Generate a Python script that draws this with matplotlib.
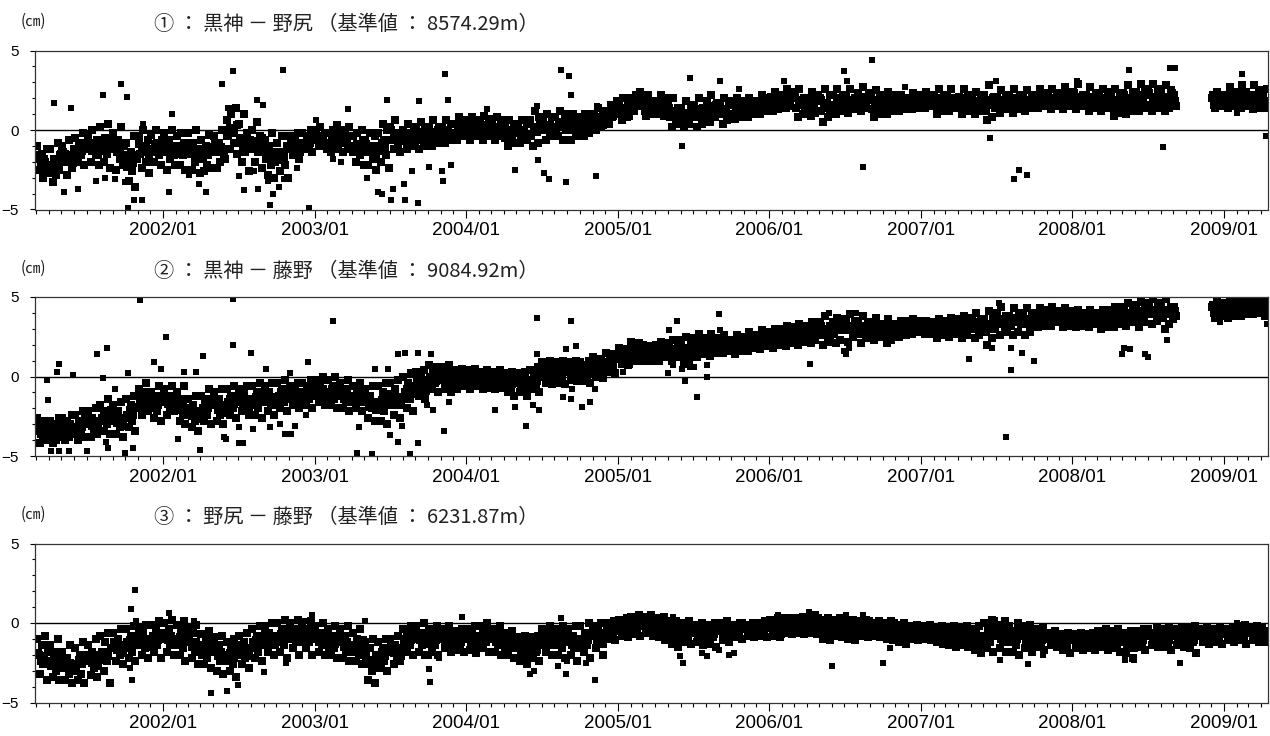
import numpy as np
import pandas as pd
import matplotlib
matplotlib.use("Agg")
import matplotlib.pyplot as plt
import matplotlib.dates as mdates
from matplotlib.ticker import MultipleLocator, FixedLocator

N = None
START_MONTH = "2001-03"
END_MONTH = "2009-04"

TITLES = ["① ： 黒神 － 野尻 （基準値 ： 8574.29m）",
          "② ： 黒神 － 藤野 （基準値 ： 9084.92m）",
          "③ ： 野尻 － 藤野 （基準値 ： 6231.87m）"]
UNIT = "(㎝)"

# baseline-length change in mm, 8 readings per month (Mar 2001 .. Apr 2009)
P1_MM = [
    -10,-18,-25,-15,-30,-20,-12,-27, -12,-22,-33,-18,-28,-8,-25,-15, -10,-20,-15,-28,-6,-18,-24,-12,
    -5,-14,-20,-8,-16,-2,-22,-11, -3,-12,-20,0,-8,-16,-6,-22, 2,-10,-20,-5,-15,4,-24,-8,
    -2,-12,-25,-6,-18,2,-22,-10, -8,-20,-32,-14,-26,-4,-36,-18, -4,-15,-24,0,-10,-20,-6,-27,
    -3,-12,-20,0,-8,-16,-22,-6,
    -2,-14,-25,-6,-18,0,-10,-22, -4,-12,-22,-2,-16,-8,-25,-10, -2,-15,-25,-8,-20,0,-12,-27,
    -6,-18,-26,-10,-22,-3,-14,-24, -4,-14,-24,-8,-20,0,-12,-18, 6,-4,-12,10,0,-8,14,-15,
    4,-8,-20,10,-14,-2,-26,-6, 0,-10,-20,5,-14,-4,-24,-8, -6,-18,-28,-10,-22,-2,-30,-14,
    -8,-18,-26,-4,-14,-22,-10,-30, -4,-10,-16,-6,-12,-2,-18,-8, -2,-8,-12,-4,-10,0,-14,-6,
    0,-6,-10,2,-4,-8,-2,-12, -2,-8,-14,0,-6,-12,3,-10, -2,-8,-14,0,-6,-12,2,-10,
    -4,-12,-20,-2,-10,-16,0,-22, -6,-14,-22,-2,-10,-18,-4,-25, -2,-10,-20,4,-6,-16,0,-24,
    2,-6,-12,6,-2,-10,-14,-4, 0,-6,-12,4,-2,-10,-4,-8, 2,-6,-12,5,-2,-10,0,-8,
    2,-4,-10,6,-2,-8,0,-6, 2,-4,-8,6,0,-6,4,-2, 4,-2,-6,8,2,-4,6,0,
    4,-2,-6,8,0,-4,6,2, 5,-2,-6,9,2,-4,7,0, 4,-2,-6,8,0,-4,6,2,
    2,-4,-10,6,-2,-8,4,0, 3,-2,-8,6,0,-6,4,-4, 6,-4,-10,12,0,-8,8,2,
    6,0,-6,10,3,-4,8,2, 8,2,-4,12,4,-6,10,0, 6,0,-6,10,2,-4,8,4,
    6,0,-4,10,4,-2,8,2, 10,4,0,14,6,2,12,8, 12,6,4,16,8,10,14,18,
    16,10,6,20,12,8,18,14, 20,14,12,22,16,18,24,15, 20,12,9,22,16,14,18,10,
    18,12,10,22,14,9,20,16, 16,8,2,20,12,4,14,10, 14,6,2,18,10,4,12,8,
    16,8,2,20,10,4,14,6, 18,10,5,22,14,8,16,12, 16,10,4,20,12,6,18,8,
    16,10,7,20,14,8,18,12, 16,11,8,20,14,10,18,12, 18,13,10,22,15,12,20,16,
    20,15,12,24,17,13,22,18, 22,16,14,26,18,15,24,20, 22,14,8,26,16,10,20,18,
    20,14,9,24,16,11,22,18, 20,12,5,26,14,8,22,16, 22,14,10,26,16,12,20,18,
    22,15,11,26,17,13,20,18, 23,16,12,27,18,14,21,19, 20,13,8,25,15,10,22,17,
    20,14,10,24,16,12,22,18, 19,15,12,22,17,13,20,18, 20,16,13,23,18,14,22,19,
    21,16,14,24,18,15,22,19, 22,15,10,26,17,12,20,18, 22,16,12,26,18,14,20,19,
    21,15,10,26,17,12,22,18, 20,14,10,24,16,12,22,18, 22,12,6,28,16,8,20,14,
    21,15,11,25,17,13,20,18, 22,16,11,26,18,13,20,19, 21,16,12,25,18,14,20,19,
    22,17,14,26,19,15,21,20, 22,16,13,26,18,15,21,20, 23,17,13,27,19,15,22,20,
    24,17,13,29,20,15,22,21, 22,16,12,27,18,14,21,20, 22,16,12,26,18,14,24,20,
    21,14,9,26,17,11,23,19, 23,15,10,28,18,12,24,20, 24,17,12,29,20,14,26,22,
    24,16,12,29,20,14,26,21, 23,16,12,28,19,14,25,21, 22,15,N,N,N,N,N,N,
    N,N,N,N,N,N,N,N, N,N,N,N,N,N,N,N, 20,16,14,24,18,15,22,19,
    22,16,14,27,18,15,24,20, 22,16,14,28,19,15,24,21, 22,16,13,28,19,14,25,20,
    21,16,14,26,18,N,N,N,
]

# 4 further readings per month lying in the dense middle of the band
P1_CORE_MM = [
    -16,-21,-18,-23, -23,-18,-21,-16, -14,-19,-16,-21, -15,-10,-13,-8, -8,-13,-10,-15,
    -13,-8,-11,-6, -9,-14,-11,-16, -23,-18,-21,-16, -9,-14,-11,-16, -14,-9,-12,-7,
    -9,-14,-11,-16, -15,-10,-13,-8, -10,-15,-12,-17, -18,-13,-16,-11, -9,-14,-11,-16,
    -4,1,-2,3, -5,-10,-7,-12, -12,-7,-10,-5, -13,-18,-15,-20, -19,-14,-17,-12,
    -7,-12,-9,-14, -10,-5,-8,-3,
    -2,-7,-4,-9, -9,-4,-7,-2, -3,-8,-5,-10, -14,-9,-12,-7, -9,-14,-11,-16,
    -13,-8,-11,-6, 0,-5,-2,-7, -7,-2,-5,0, -1,-6,-3,-8, -6,-1,-4,1,
    2,-3,0,-5, -2,3,0,5,
    4,-1,2,-3, -2,3,0,5, 4,-1,2,-3, -5,0,-3,2, 2,-3,0,-5,
    -3,2,-1,4, 5,0,3,-2, 0,5,2,7, 5,0,3,-2, 0,5,2,7,
    10,5,8,3, 7,12,9,14,
    16,11,14,9, 15,20,17,22, 19,14,17,12, 13,18,15,20, 14,9,12,7,
    6,11,8,13, 13,8,11,6, 10,15,12,17, 15,10,13,8, 10,15,12,17,
    17,12,15,10, 13,18,15,20,
    21,16,19,14, 17,22,19,24, 21,16,19,14, 15,20,17,22, 19,14,17,12,
    15,20,17,22, 21,16,19,14, 16,21,18,23, 19,14,17,12, 14,19,16,21,
    20,15,18,13, 15,20,17,22,
    22,17,20,15, 15,20,17,22, 22,17,20,15, 15,20,17,22, 20,15,18,13,
    14,19,16,21, 21,16,19,14, 15,20,17,22, 21,16,19,14, 16,21,18,23,
    22,17,20,15, 17,22,19,24,
    23,18,21,16, 16,21,18,23, 22,17,20,15, 14,19,16,21, 22,17,20,15,
    17,22,19,24, 23,18,21,16, 16,21,18,23, 18,N,N,N, N,N,N,N,
    N,N,N,N, 22,17,20,15,
    17,22,19,24, 23,18,21,16, 17,22,19,24, 22,17,N,N,
]

P2_MM = [
    -26,-34,-42,-30,-38,-28,-40,-32, -28,-36,-42,-30,-40,-32,-26,-38, -26,-34,-40,-28,-38,-30,-24,-36,
    -24,-32,-40,-28,-36,-22,-38,-30, -22,-30,-38,-26,-34,-20,-36,-28, -18,-26,-34,-22,-30,-14,-36,-24,
    -18,-28,-36,-22,-32,-16,-38,-26, -14,-24,-32,-18,-28,-12,-34,-20, -8,-16,-24,-10,-20,-4,-22,-14,
    -10,-18,-26,-12,-22,-6,-28,-16,
    -8,-16,-24,-12,-20,-6,-22,-14, -10,-18,-28,-14,-24,-6,-30,-20, -14,-24,-32,-18,-28,-12,-34,-22,
    -12,-20,-28,-14,-24,-8,-30,-18, -10,-18,-28,-14,-24,-8,-30,-20, -8,-16,-24,-12,-20,-6,-26,-14,
    -8,-16,-22,-10,-18,-6,-24,-14, -6,-14,-24,-10,-20,-4,-26,-16, -6,-14,-22,-10,-18,-4,-24,-16,
    -4,-12,-20,-8,-16,-2,-22,-14, -6,-12,-18,-8,-14,-4,-20,-10, -4,-10,-18,-6,-14,-2,-20,-12,
    -2,-8,-16,-4,-12,0,-18,-10, -2,-10,-18,-6,-14,0,-20,-12, -4,-12,-20,-8,-16,-2,-22,-14,
    -6,-12,-20,-8,-16,-4,-22,-14, -8,-16,-26,-12,-20,-6,-28,-18, -6,-16,-28,-10,-22,-4,-30,-18,
    -4,-12,-24,-8,-18,-2,-26,-14, 0,-10,-20,-4,-14,2,-22,-8, 3,-4,-12,0,-8,4,-14,-2,
    7,0,-8,4,-4,6,-10,2, 6,-2,-8,4,-4,7,-10,0, 4,-2,-8,2,-4,5,-6,0,
    4,-2,-8,2,-5,5,-6,0, 3,-3,-8,1,-6,4,-7,-1, 3,-3,-8,0,-6,4,-7,-1,
    2,-4,-10,0,-7,3,-12,-2, 2,-4,-10,0,-8,3,-12,-2, 4,-2,-8,2,-5,6,-10,0,
    9,2,-4,6,-1,10,-5,4, 9,2,-4,6,0,10,-5,3, 9,3,-2,7,0,10,-3,5,
    9,3,-3,7,0,10,-4,5, 12,6,0,10,3,11,-1,8, 15,9,3,13,6,14,2,11,
    18,12,8,16,10,17,7,14, 22,15,10,20,13,21,10,17, 20,14,10,18,12,19,10,16,
    20,14,10,22,16,12,18,13, 21,15,10,23,17,12,19,14, 23,15,8,25,17,10,20,13,
    24,18,12,27,20,14,22,16, 24,18,13,27,20,15,22,17, 23,18,15,26,20,16,22,19,
    23,18,14,26,20,16,22,19, 25,20,16,28,22,18,24,21, 26,21,17,29,23,19,25,22,
    28,22,18,30,24,20,26,23, 30,24,19,32,26,21,28,25, 31,25,20,33,27,22,29,26,
    32,26,21,34,28,23,30,27, 34,26,20,38,30,22,32,28, 34,27,21,37,30,23,32,29,
    36,29,22,39,32,25,34,30, 35,28,21,38,31,24,33,29, 34,28,23,37,31,25,33,30,
    33,27,21,36,29,23,31,28, 33,29,25,35,31,26,32,30, 35,30,27,36,32,28,34,31,
    34,30,27,35,32,28,33,31, 34,28,24,36,30,26,33,29, 35,30,25,37,32,27,34,31,
    36,30,24,38,33,26,35,31, 37,31,24,40,34,26,36,32, 36,28,20,41,32,24,38,30,
    40,33,26,44,36,28,38,34, 38,32,26,43,35,28,40,33, 40,33,26,43,36,28,38,34,
    40,35,31,43,37,32,41,36, 42,37,32,44,39,34,41,38, 41,36,31,43,38,32,40,37,
    40,35,31,42,37,32,39,36, 40,35,31,42,37,33,39,36, 40,34,30,42,36,31,39,35,
    42,36,31,44,38,33,40,37, 44,38,32,46,40,34,42,39, 45,38,31,47,41,34,43,40,
    46,39,33,49,42,35,44,40, 46,38,30,49,42,33,44,36, 44,38,N,N,N,N,N,N,
    N,N,N,N,N,N,N,N, N,N,N,N,N,N,N,N, 44,40,37,47,42,38,45,41,
    46,41,37,49,43,38,47,42, 47,42,38,49,44,39,46,43, 47,42,39,49,44,40,46,43,
    46,41,38,48,43,N,N,N,
]

P2_CORE_MM = [
    -31,-36,-33,-38, -37,-32,-35,-30, -29,-34,-31,-36, -34,-29,-32,-27, -26,-31,-28,-33,
    -28,-23,-26,-21, -24,-29,-26,-31, -26,-21,-24,-19, -12,-17,-14,-19, -20,-15,-18,-13,
    -12,-17,-14,-19, -21,-16,-19,-14, -20,-25,-22,-27, -22,-17,-20,-15, -16,-21,-18,-23,
    -19,-14,-17,-12, -12,-17,-14,-19, -18,-13,-16,-11, -11,-16,-13,-18, -15,-10,-13,-8,
    -9,-14,-11,-16, -14,-9,-12,-7,
    -6,-11,-8,-13, -13,-8,-11,-6, -9,-14,-11,-16, -16,-11,-14,-9, -14,-19,-16,-21,
    -20,-15,-18,-13, -11,-16,-13,-18, -13,-8,-11,-6, -2,-7,-4,-9, -5,0,-3,2,
    2,-3,0,-5, -4,1,-2,3,
    2,-3,0,-5, -5,0,-3,2, 1,-4,-1,-6, -7,-2,-5,0, -1,-6,-3,-8,
    -5,0,-3,2, 5,0,3,-2, -1,4,1,6, 6,1,4,-1, 0,5,2,7,
    8,3,6,1, 5,10,7,12,
    15,10,13,8, 12,17,14,19, 17,12,15,10, 13,18,15,20, 19,14,17,12,
    13,18,15,20, 22,17,20,15, 17,22,19,24, 23,18,21,16, 17,22,19,24,
    25,20,23,18, 20,25,22,27,
    27,22,25,20, 23,28,25,30, 30,25,28,23, 25,30,27,32, 32,27,30,25,
    27,32,29,34, 34,29,32,27, 27,32,29,34, 33,28,31,26, 26,31,28,33,
    33,28,31,26, 28,33,30,35,
    34,29,32,27, 27,32,29,34, 34,29,32,27, 28,33,30,35, 35,30,33,28,
    28,33,30,35, 38,33,36,31, 32,37,34,39, 38,33,36,31, 34,39,36,41,
    41,36,39,34, 34,39,36,41,
    39,34,37,32, 33,38,35,40, 39,34,37,32, 34,39,36,41, 42,37,40,35,
    36,41,38,43, 44,39,42,37, 37,42,39,44, 41,N,N,N, N,N,N,N,
    N,N,N,N, 45,40,43,38,
    40,45,42,47, 47,42,45,40, 41,46,43,48, 46,41,N,N,
]

P3_MM = [
    -10,-20,-32,-14,-26,-8,-36,-18, -14,-24,-34,-18,-30,-10,-36,-22, -18,-28,-36,-22,-32,-14,-38,-26,
    -16,-26,-36,-20,-32,-12,-38,-24, -14,-24,-33,-18,-28,-10,-34,-20, -8,-18,-30,-12,-24,-6,-38,-16,
    -6,-14,-24,-10,-20,-4,-26,-16, -4,-12,-22,-8,-18,-2,-24,-14, -3,-10,-20,-6,-16,-1,-22,-12,
    -1,-8,-18,-4,-14,1,-22,-10,
    0,-8,-18,-4,-14,2,-20,-10, -1,-10,-20,-4,-16,1,-24,-12, -3,-12,-22,-6,-18,-1,-26,-14,
    -7,-16,-26,-10,-22,-5,-28,-18, -9,-18,-30,-14,-24,-8,-32,-20, -12,-22,-30,-16,-26,-10,-34,-20,
    -8,-18,-26,-12,-22,-6,-28,-16, -4,-12,-22,-8,-18,-2,-24,-14, -2,-10,-18,-6,-14,0,-20,-8,
    0,-8,-18,-4,-14,2,-22,-10, 0,-8,-16,-4,-12,2,-20,-6, -1,-8,-16,-4,-12,1,-20,-6,
    -2,-10,-18,-6,-14,0,-20,-8, -4,-12,-20,-8,-16,-2,-22,-10, -4,-12,-22,-8,-18,-2,-24,-14,
    -6,-14,-24,-10,-20,-4,-26,-16, -12,-24,-36,-16,-30,-10,-38,-20, -12,-20,-28,-16,-24,-10,-30,-18,
    -10,-18,-26,-14,-22,-8,-24,-16, -4,-10,-18,-6,-14,-2,-20,-8, -2,-10,-18,-6,-14,0,-20,-8,
    -4,-10,-18,-6,-14,-2,-20,-8, -4,-10,-16,-6,-12,-2,-18,-8, -5,-11,-17,-7,-14,-4,-18,-9,
    -4,-10,-17,-6,-13,-2,-19,-8, -2,-8,-16,-4,-12,0,-18,-6, -4,-10,-18,-6,-14,-2,-20,-8,
    -6,-12,-20,-8,-16,-5,-22,-10, -9,-16,-24,-12,-20,-8,-26,-14, -9,-16,-22,-12,-18,-8,-24,-14,
    -4,-10,-18,-6,-14,-2,-20,-8, -4,-12,-20,-6,-16,-2,-22,-10, -4,-12,-20,-8,-16,-2,-24,-10,
    -2,-10,-18,-6,-14,0,-22,-8, -2,-8,-16,-4,-12,0,-20,-6, 0,-4,-10,-2,-7,1,-11,-5,
    2,-3,-8,0,-5,3,-9,-2, 4,-1,-7,2,-4,5,-8,0, 4,-1,-6,2,-4,5,-8,0,
    3,-3,-9,0,-6,4,-11,-2, 0,-6,-13,-3,-9,1,-15,-5, 0,-5,-12,-2,-8,1,-13,-4,
    -1,-6,-12,-3,-9,0,-14,-4, -1,-6,-13,-3,-9,0,-15,-4, 0,-5,-11,-2,-8,1,-12,-4,
    -1,-4,-9,-2,-6,0,-10,-3, -1,-4,-8,-2,-6,0,-9,-3, 0,-4,-8,-1,-6,1,-9,-2,
    2,-3,-8,0,-5,3,-9,-1, 3,-2,-6,1,-4,3,-7,0, 3,-2,-6,1,-4,4,-7,0,
    4,-1,-6,2,-4,5,-7,0, 2,-4,-10,0,-6,3,-11,-2, 2,-3,-8,0,-6,3,-9,-1,
    1,-4,-10,-1,-7,2,-11,-3, 1,-3,-8,-1,-6,2,-9,-2, 0,-4,-8,-1,-6,1,-9,-2,
    0,-4,-10,-2,-7,1,-11,-3, -1,-6,-12,-3,-9,0,-13,-4, -2,-6,-10,-4,-8,-1,-11,-5,
    -2,-6,-10,-4,-8,-1,-11,-5, -3,-7,-12,-5,-9,-2,-13,-6, -3,-8,-14,-5,-11,-2,-15,-6,
    -3,-8,-14,-5,-11,-2,-15,-6, -4,-10,-17,-6,-13,-2,-19,-8, 0,-8,-16,-3,-12,2,-18,-6,
    -1,-8,-16,-4,-12,1,-18,-6, -2,-10,-18,-5,-14,0,-20,-8, -2,-8,-16,-5,-12,-1,-18,-7,
    -4,-9,-15,-6,-12,-3,-17,-8, -6,-10,-14,-8,-12,-5,-15,-9, -7,-12,-17,-9,-14,-6,-19,-10,
    -7,-11,-16,-9,-13,-6,-17,-10, -7,-11,-16,-9,-13,-6,-17,-10, -5,-10,-15,-7,-12,-4,-17,-8,
    -5,-10,-16,-7,-13,-4,-18,-8, -6,-12,-19,-8,-15,-5,-22,-10, -5,-10,-15,-7,-12,-4,-17,-8,
    -4,-8,-14,-6,-11,-3,-15,-7, -4,-9,-15,-6,-12,-3,-17,-8, -4,-8,-14,-6,-11,-3,-15,-7,
    -3,-9,-16,-5,-12,-2,-19,-7, -4,-8,-12,-6,-10,-3,-13,-7, -4,-8,-12,-6,-10,-3,-13,-7,
    -4,-7,-11,-5,-9,-3,-12,-6, -2,-6,-11,-4,-9,-1,-13,-5, -3,-6,-11,-4,-9,-2,-12,-5,
    -3,-7,-12,-5,-9,N,N,N,
]

P3_CORE_MM = [
    -19,-24,-21,-26, -27,-22,-25,-20, -23,-28,-25,-30, -28,-23,-26,-21, -20,-25,-22,-27,
    -23,-18,-21,-16, -12,-17,-14,-19, -16,-11,-14,-9, -8,-13,-10,-15, -13,-8,-11,-6,
    -6,-11,-8,-13, -14,-9,-12,-7, -10,-15,-12,-17, -20,-15,-18,-13, -16,-21,-18,-23,
    -24,-19,-22,-17, -14,-19,-16,-21, -16,-11,-14,-9, -7,-12,-9,-14, -12,-7,-10,-5,
    -5,-10,-7,-12, -12,-7,-10,-5,
    -7,-12,-9,-14, -15,-10,-13,-8, -10,-15,-12,-17, -18,-13,-16,-11, -21,-26,-23,-28,
    -23,-18,-21,-16, -14,-19,-16,-21, -13,-8,-11,-6, -6,-11,-8,-13, -13,-8,-11,-6,
    -6,-11,-8,-13, -14,-9,-12,-7,
    -7,-12,-9,-14, -11,-6,-9,-4, -7,-12,-9,-14, -16,-11,-14,-9, -14,-19,-16,-21,
    -19,-14,-17,-12, -7,-12,-9,-14, -14,-9,-12,-7, -9,-14,-11,-16, -13,-8,-11,-6,
    -6,-11,-8,-13, -8,-3,-6,-1,
    0,-5,-2,-7, -4,1,-2,3, 2,-3,0,-5, -6,-1,-4,1, -3,-8,-5,-10,
    -8,-3,-6,-1, -3,-8,-5,-10, -9,-4,-7,-2, -2,-7,-4,-9, -7,-2,-5,0,
    -1,-6,-3,-8, -7,-2,-5,0,
    0,-5,-2,-7, -4,1,-2,3, 2,-3,0,-5, -4,1,-2,3, 0,-5,-2,-7,
    -6,-1,-4,1, -1,-6,-3,-8, -6,-1,-4,1, -1,-6,-3,-8, -7,-2,-5,0,
    -3,-8,-5,-10, -9,-4,-7,-2,
    -3,-8,-5,-10, -10,-5,-8,-3, -5,-10,-7,-12, -11,-6,-9,-4, -7,-12,-9,-14,
    -10,-5,-8,-3, -5,-10,-7,-12, -12,-7,-10,-5, -6,-11,-8,-13, -13,-8,-11,-6,
    -7,-12,-9,-14, -15,-10,-13,-8,
    -8,-13,-10,-15, -14,-9,-12,-7, -7,-12,-9,-14, -13,-8,-11,-6, -9,-14,-11,-16,
    -13,-8,-11,-6, -6,-11,-8,-13, -13,-8,-11,-6, -6,-11,-8,-13, -13,-8,-11,-6,
    -5,-10,-7,-12, -11,-6,-9,-4,
    -4,-9,-6,-11, -10,-5,-8,-3, -4,-9,-6,-11, -10,-5,N,N,
]

# isolated readings (outliers), dates and mm
P1_OUT_DATES = ["2001-04-13","2001-05-25","2001-08-08","2001-09-22","2001-10-07","2001-11-14","2002-01-22",
    "2002-05-22","2002-06-19","2002-06-06","2002-06-21","2002-08-16","2002-08-29","2002-10-16","2003-01-04",
    "2003-03-22","2003-06-25","2003-09-09","2003-11-12","2003-11-18","2004-02-21","2004-06-19","2004-08-18",
    "2004-09-06","2004-09-10","2004-11-12","2001-05-06","2001-06-09","2001-07-24","2001-08-15","2001-09-08",
    "2001-10-02","2001-10-23","2001-11-11","2001-10-08","2002-01-16","2002-03-04","2002-03-28","2002-04-15",
    "2002-07-04","2002-07-16","2002-08-17","2002-08-07","2002-09-16","2002-09-22","2002-09-10","2002-10-19",
    "2002-10-07","2002-11-19","2002-12-19","2003-02-15","2003-03-06","2003-05-07","2003-06-04","2003-06-13",
    "2003-07-04","2003-07-09","2003-08-04","2003-08-07","2003-08-25","2003-09-07","2003-10-04","2003-11-06",
    "2003-11-03","2003-11-25","2004-04-28","2004-06-22","2004-07-07","2004-07-19","2004-08-28","2004-11-10",
    "2005-06-05","2005-06-25","2005-09-04","2005-10-19","2006-02-06","2006-07-01","2006-07-07","2006-08-16",
    "2006-09-06","2006-11-24","2007-06-16","2007-07-01","2007-08-13","2007-08-25","2007-09-13","2008-01-12",
    "2008-05-16","2008-08-07","2008-08-25","2008-09-04","2009-02-02","2009-02-13","2009-04-13"]
P1_OUT_MM = [17,14,22,29,21,4,10,
    29,37,14,14,19,16,38,6,
    13,19,18,35,19,13,15,38,
    34,22,15,-39,-37,-32,-30,-31,
    -33,-44,-44,-49,-39,-28,-34,-39,
    -29,-38,-37,-26,-47,-40,-32,-31,
    -36,-24,-49,-18,-20,-30,-39,-40,
    -44,-37,-34,-44,-26,-46,-23,-32,
    -26,-22,-25,-19,-27,-31,-33,-29,
    -10,33,31,26,31,37,31,-23,
    44,27,-5,31,-31,-25,-28,31,
    38,-11,39,39,11,35,-4]

P2_OUT_DATES = ["2001-03-26","2001-03-29","2001-04-20","2001-04-25","2001-04-05","2001-04-24","2001-05-28",
    "2001-05-20","2001-07-01","2001-07-26","2001-08-18","2001-08-10","2001-08-21","2001-08-17","2001-09-06",
    "2001-09-30","2001-10-08","2001-10-20","2001-11-07","2001-12-09","2001-12-26","2002-01-08","2002-02-05",
    "2002-02-21","2002-03-21","2002-03-31","2002-04-08","2002-05-28","2002-06-01","2002-06-18","2002-06-19",
    "2002-07-02","2002-07-12","2002-07-31","2002-07-04","2002-08-05","2002-09-05","2002-09-15","2002-10-10",
    "2002-10-21","2002-11-06","2002-11-14","2002-11-04","2002-12-11","2002-12-16","2003-02-15","2003-04-18",
    "2003-04-14","2003-05-27","2003-05-20","2003-06-27","2003-07-01","2003-07-20","2003-07-22","2003-08-07",
    "2003-07-30","2003-09-07","2003-09-08","2003-08-19","2003-10-08","2003-09-28","2003-10-13","2003-11-08",
    "2003-11-22","2004-03-10","2004-04-28","2004-05-24","2004-06-19","2004-06-20","2004-06-10","2004-06-24",
    "2004-09-10","2004-08-30","2004-09-12","2004-09-11","2004-08-22","2004-09-22","2004-10-06","2004-10-25",
    "2004-11-07","2005-01-13","2005-05-04","2005-05-23","2005-05-02","2005-05-15","2005-06-05","2005-06-12",
    "2005-07-10","2005-06-25","2005-07-04","2005-08-03","2005-08-04","2005-09-02","2005-09-03","2006-04-10",
    "2006-05-25","2006-07-01","2006-07-04","2006-07-13","2006-07-28","2007-04-28","2007-06-21","2007-07-08",
    "2007-08-07","2007-08-06","2007-07-25","2007-09-03","2007-10-01","2008-05-01","2008-05-05","2008-05-20",
    "2008-06-25","2008-07-01","2008-08-17","2008-12-22","2009-04-15"]
P2_OUT_MM = [-2,-15,3,8,-47,-47,1,
    -47,-47,14,18,-1,-45,-41,-8,
    -48,2,-45,48,9,5,25,-39,
    3,3,-46,13,-38,-39,49,20,
    -42,-42,15,-32,-33,5,-32,-30,
    -36,-36,-31,2,-24,9,35,-32,
    -48,5,-49,5,-37,-41,14,15,
    -31,15,-42,-49,14,-18,-21,-34,
    -16,-21,-19,-31,37,14,-18,-21,
    35,17,-8,-14,-13,19,-19,-16,
    -8,3,29,35,2,7,5,-3,
    -13,6,6,0,7,39,29,8,
    40,16,14,18,40,11,18,46,
    4,18,-38,15,10,14,18,17,
    14,12,23,34,33]

P3_OUT_DATES = ["2001-10-16","2001-10-26","2001-10-27","2001-10-13","2001-10-19","2002-01-15","2002-02-17",
    "2002-03-16","2002-04-26","2002-06-03","2002-06-18","2002-07-01","2002-09-01","2002-10-25","2002-12-07",
    "2002-12-25","2003-04-06","2003-05-02","2003-10-04","2003-10-05","2003-10-06","2003-10-28","2003-12-22",
    "2004-06-04","2004-06-13","2004-08-10","2004-08-18","2004-08-28","2004-09-01","2004-10-16","2004-11-06",
    "2005-05-13","2005-06-07","2005-05-30","2005-07-24","2005-08-04","2005-09-02","2005-09-25","2005-10-07",
    "2006-01-22","2006-04-06","2006-06-01","2006-07-04","2006-08-16","2006-10-03","2006-10-19","2007-06-30",
    "2007-07-10","2007-09-16","2007-10-22","2008-05-07","2008-05-28","2008-09-18","2009-02-01"]
P3_OUT_MM = [9,21,1,-28,-36,6,1,
    1,-44,-43,-13,-39,-31,-25,1,
    5,-24,1,-21,-29,-37,-22,4,
    -32,-30,-27,3,-32,-24,-25,-36,
    4,-25,-21,-19,-21,-17,-20,-19,
    5,7,-27,5,5,-25,-16,2,
    -23,-26,-20,-23,-23,-25,0]

PANELS = [(P1_MM, P1_CORE_MM, P1_OUT_DATES, P1_OUT_MM),
          (P2_MM, P2_CORE_MM, P2_OUT_DATES, P2_OUT_MM),
          (P3_MM, P3_CORE_MM, P3_OUT_DATES, P3_OUT_MM)]


def regular_dates(per_month, shift):
    out = []
    for p in pd.period_range(START_MONTH, END_MONTH, freq="M"):
        st = p.start_time
        nd = p.days_in_month
        for i in range(per_month):
            out.append(st + pd.Timedelta(days=(i + shift) * nd / per_month))
    return pd.DatetimeIndex(out)


def to_cm(vals):
    return np.array([np.nan if v is None else v for v in vals], float) / 10.0


W, H = 1270, 736
fig = plt.figure(figsize=(W / 100, H / 100), dpi=100)
cjk = ["Noto Sans CJK JP", "DejaVu Sans"]
lat = ["Liberation Sans", "DejaVu Sans"]

left_px, right_px = 34.5, 1268.0
tops = [50.5, 297.0, 543.5]
height_px = 159.0

d8 = regular_dates(8, 0.5)
d4 = regular_dates(4, 0.5)
for k, (vals, core, od, ov) in enumerate(PANELS):
    top = tops[k]
    ax = fig.add_axes([left_px / W, 1 - (top + height_px) / H,
                       (right_px - left_px) / W, height_px / H])
    band = dict(ls="none", marker="s", ms=5.6, mfc="black", mec="black", mew=0)
    single = dict(ls="none", marker="s", ms=4.0, mfc="black", mec="black", mew=0)
    ax.plot(d8, to_cm(vals), **band)
    ax.plot(d4, to_cm(core), **band)
    ax.plot(pd.to_datetime(od), to_cm(ov), **single)
    ax.axhline(0, color="black", lw=1.0, zorder=1)
    ax.set_xlim(pd.Timestamp("2001-02-25"), pd.Timestamp("2009-04-17"))
    ax.set_ylim(-5, 5)
    ax.yaxis.set_major_locator(FixedLocator([-5, 0, 5]))
    ax.yaxis.set_minor_locator(MultipleLocator(1))
    ax.xaxis.set_major_locator(mdates.YearLocator(month=1))
    ax.xaxis.set_minor_locator(mdates.MonthLocator())
    ax.xaxis.set_major_formatter(mdates.DateFormatter("%Y/%m"))
    ax.tick_params(axis="x", which="major", direction="out", length=5.8, width=0.8, pad=3.5,
                   labelsize=13.5, colors="black")
    ax.tick_params(axis="x", which="minor", direction="out", length=3.0, width=0.8)
    ax.tick_params(axis="y", which="major", direction="out", length=3.6, width=0.8, pad=7.5,
                   labelsize=11, colors="black")
    ax.tick_params(axis="y", which="minor", direction="out", length=2.2, width=0.8)
    for lab in ax.get_xticklabels() + ax.get_yticklabels():
        lab.set_fontfamily(lat)
    for s in ax.spines.values():
        s.set_color("#333333")
        s.set_linewidth(0.9)
    ty = 1 - (top - 26) / H
    fig.text(154 / W, ty, TITLES[k], family=cjk, fontsize=14.5, color="#222222",
             ha="left", va="center")
    fig.text(21 / W, ty + 3 / H, UNIT, family=cjk, fontsize=11, color="#222222",
             ha="left", va="center")

fig.savefig("out.png", dpi=100)
